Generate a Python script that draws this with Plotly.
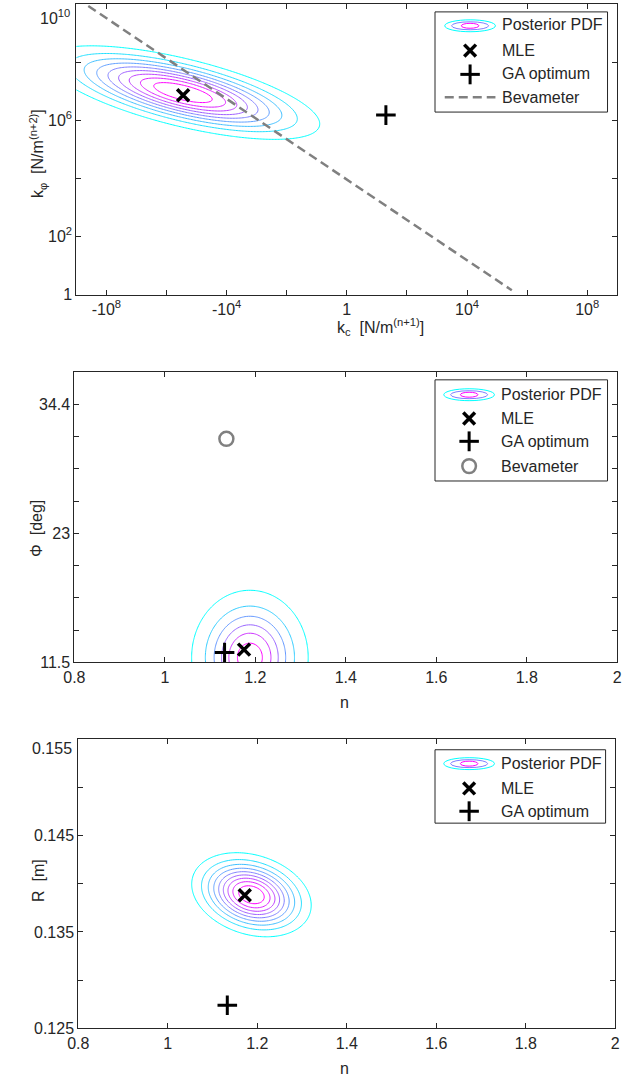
import numpy as np
import plotly.graph_objects as go

W, H = 633, 1090

# ---------------- data ----------------
# Panel 1: k_c vs k_phi
kc_mle = [-2.8e5]
kphi_mle = [7.2e6]
kc_ga = [20.0]
kphi_ga = [1.5e6]
bev_kc = [-4.0e8, 3.1e5]
bev_kphi = [8.5e9, 1.4]
# posterior summary in (signed log10 k_c, log10 k_phi)
pdf1_mean = [-5.45, 6.95]
pdf1_std = [2.12, 0.75]
pdf1_rho = -0.67

# Panel 2: n vs Phi [deg]
n_mle2 = [1.175]
phi_mle = [12.6]
n_ga2 = [1.132]
phi_ga = [12.34]
n_bev = [1.136]
phi_bev = [31.3]
pdf2_mean = [1.188, 11.9]
pdf2_std = [0.060, 2.78]
pdf2_rho = 0.0

# Panel 3: n vs R [m]
n_mle3 = [1.172]
R_mle = [0.1388]
n_ga3 = [1.133]
R_ga = [0.1274]
pdf3_mean = [1.187, 0.13885]
pdf3_std = [0.0622, 0.00203]
pdf3_rho = -0.25

# ticks (labelled major ticks + unlabelled minor ticks)
kc_tickvals = [-8, -4, 0, 4, 8]
kc_ticktext = ["-10<sup>8</sup>", "-10<sup>4</sup>", "1", "10<sup>4</sup>", "10<sup>8</sup>"]
kc_minor = [-6, -2, 2, 6]
kphi_tickvals = [1, 1e2, 1e6]
kphi_ticktext = ["1", "10<sup>2</sup>", "10<sup>6</sup>"]
kphi_minor = [1e4, 1e8, 1e10]
phi_rad_major = [0.2, 0.4, 0.6]
phi_ticktext = ["11.5", "23", "34.4"]
phi_rad_minor = [0.25, 0.3, 0.35, 0.45, 0.5, 0.55]
n_tickvals = [0.8, 1.0, 1.2, 1.4, 1.6, 1.8, 2.0]
n_ticktext = ["0.8", "1", "1.2", "1.4", "1.6", "1.8", "2"]
R_tickvals = [0.125, 0.135, 0.145]
R_ticktext = ["0.125", "0.135", "0.145"]
R_minor = [0.13, 0.14, 0.15, 0.155]


def slog(v):
    v = np.asarray(v, dtype=float)
    return np.sign(v) * np.log10(np.maximum(np.abs(v), 1.0))


def gauss2d(X, Y, mean, std, rho):
    u = (X - mean[0]) / std[0]
    v = (Y - mean[1]) / std[1]
    q = (u * u - 2 * rho * u * v + v * v) / (1 - rho ** 2)
    return np.exp(-0.5 * q)


FONT = "Liberation Sans, Arial, sans-serif"
AX = "#262626"
cool = [[0, "#00FFFF"], [1, "#FF00FF"]]

fig = go.Figure()

# ---- panel 1 ----
tx = np.linspace(-10, 10, 401)
ty = np.linspace(-0.5, 10.5, 301)
TX, TY = np.meshgrid(tx, ty)
Z1 = gauss2d(TX, TY, pdf1_mean, pdf1_std, pdf1_rho)
fig.add_trace(go.Contour(x=tx, y=10 ** ty, z=Z1, xaxis="x", yaxis="y",
                         contours=dict(coloring="lines", start=0.1, end=0.9, size=0.1),
                         line=dict(width=1), colorscale=cool, showscale=False,
                         hoverinfo="skip", showlegend=False))
fig.add_trace(go.Scatter(x=slog(bev_kc), y=bev_kphi, mode="lines", xaxis="x", yaxis="y",
                         line=dict(color="#808080", width=2.5, dash="9px,5px"), showlegend=False))
fig.add_trace(go.Scatter(x=slog(kc_mle), y=kphi_mle, mode="markers", xaxis="x", yaxis="y",
                         marker=dict(symbol="x-thin", size=12, color="black",
                                     line=dict(color="black", width=3.5)), showlegend=False))
fig.add_trace(go.Scatter(x=slog(kc_ga), y=kphi_ga, mode="markers", xaxis="x", yaxis="y",
                         marker=dict(symbol="cross-thin", size=14, color="black",
                                     line=dict(color="black", width=3)), showlegend=False))

# ---- panel 2 ----
nx = np.linspace(0.75, 2.05, 261)
py2 = np.linspace(5, 38, 331)
NX, PY = np.meshgrid(nx, py2)
Z2 = gauss2d(NX, PY, pdf2_mean, pdf2_std, pdf2_rho)
fig.add_trace(go.Contour(x=nx, y=py2, z=Z2, xaxis="x2", yaxis="y2",
                         contours=dict(coloring="lines", start=0.1, end=0.9, size=0.16),
                         line=dict(width=1), colorscale=cool, showscale=False,
                         hoverinfo="skip", showlegend=False))
fig.add_trace(go.Scatter(x=n_bev, y=phi_bev, mode="markers", xaxis="x2", yaxis="y2",
                         marker=dict(symbol="circle-open", size=14, color="#808080",
                                     line=dict(color="#808080", width=2.5)), showlegend=False))
fig.add_trace(go.Scatter(x=n_mle2, y=phi_mle, mode="markers", xaxis="x2", yaxis="y2",
                         marker=dict(symbol="x-thin", size=12, color="black",
                                     line=dict(color="black", width=3.5)), showlegend=False))
fig.add_trace(go.Scatter(x=n_ga2, y=phi_ga, mode="markers", xaxis="x2", yaxis="y2",
                         marker=dict(symbol="cross-thin", size=14, color="black",
                                     line=dict(color="black", width=3)), showlegend=False))

# ---- panel 3 ----
ry = np.linspace(0.124, 0.156, 321)
NX3, RY = np.meshgrid(nx, ry)
Z3 = gauss2d(NX3, RY, pdf3_mean, pdf3_std, pdf3_rho)
fig.add_trace(go.Contour(x=nx, y=ry, z=Z3, xaxis="x3", yaxis="y3",
                         contours=dict(coloring="lines", start=0.1, end=0.9, size=0.1),
                         line=dict(width=1), colorscale=cool, showscale=False,
                         hoverinfo="skip", showlegend=False))
fig.add_trace(go.Scatter(x=n_mle3, y=R_mle, mode="markers", xaxis="x3", yaxis="y3",
                         marker=dict(symbol="x-thin", size=12, color="black",
                                     line=dict(color="black", width=3.5)), showlegend=False))
fig.add_trace(go.Scatter(x=n_ga3, y=R_ga, mode="markers", xaxis="x3", yaxis="y3",
                         marker=dict(symbol="cross-thin", size=14, color="black",
                                     line=dict(color="black", width=3)), showlegend=False))


def px(x):
    return x / W


def py(y):
    return 1 - y / H


base_ax = dict(showline=True, linecolor=AX, linewidth=1, mirror="ticks", ticks="inside",
               ticklen=5, tickcolor=AX, showgrid=False, zeroline=False,
               tickfont=dict(family=FONT, size=16, color=AX))


def minor(vals):
    return dict(tickmode="array", tickvals=list(vals), ticks="inside", ticklen=5,
                tickcolor=AX, showgrid=False)


fig.update_layout(
    width=W, height=H, margin=dict(l=0, r=0, t=0, b=0),
    paper_bgcolor="white", plot_bgcolor="white", showlegend=False,
    font=dict(family=FONT, size=16, color=AX),
    xaxis=dict(base_ax, domain=[px(67), px(622)], range=[-9, 9], anchor="y",
               tickmode="array", tickvals=kc_tickvals, ticktext=kc_ticktext,
               minor=minor(kc_minor)),
    yaxis=dict(base_ax, domain=[py(297), py(4)], type="log", range=[0, 10], anchor="x",
               tickmode="array", tickvals=kphi_tickvals, ticktext=kphi_ticktext,
               minor=minor(kphi_minor)),
    xaxis2=dict(base_ax, domain=[px(65), px(622)], range=[0.8, 2.0], anchor="y2",
                tickmode="array", tickvals=n_tickvals, ticktext=n_ticktext),
    yaxis2=dict(base_ax, domain=[py(668), py(375)], range=[np.degrees(0.2), np.degrees(0.65)],
                anchor="x2", tickmode="array", tickvals=list(np.degrees(phi_rad_major)),
                ticktext=phi_ticktext, minor=minor(np.degrees(phi_rad_minor))),
    xaxis3=dict(base_ax, domain=[px(69), px(620)], range=[0.8, 2.0], anchor="y3",
                tickmode="array", tickvals=n_tickvals, ticktext=n_ticktext),
    yaxis3=dict(base_ax, domain=[py(1037), py(745)], range=[0.125, 0.155], anchor="x3",
                tickmode="array", tickvals=R_tickvals, ticktext=R_ticktext,
                minor=minor(R_minor)),
)

ann = []
shapes = []


def text(x, y, s, xanchor="center", angle=0, size=16):
    ann.append(dict(xref="paper", yref="paper", x=px(x), y=py(y), text=s, showarrow=False,
                    xanchor=xanchor, yanchor="middle", textangle=angle,
                    font=dict(family=FONT, size=size, color=AX)))


# axis titles
text(379, 330, "k<sub>c</sub>  [N/m<sup>(n+1)</sup>]")
text(27, 155, "k<sub>φ</sub>  [N/m<sup>(n+2)</sup>]", angle=-90)
text(342, 708, "n")
text(26, 533, "Φ  [deg]", angle=-90)
text(342, 1077, "n")
text(28, 888, "R  [m]", angle=-90)
# top tick labels that sit slightly below their ticks
text(63, 17, "10<sup>10</sup>", xanchor="right")
text(65, 755, "0.155", xanchor="right")


def legend_box(x0, y0, x1, y1):
    shapes.append(dict(type="rect", xref="paper", yref="paper", x0=px(x0), x1=px(x1),
                       y0=py(y1), y1=py(y0), line=dict(color=AX, width=1), fillcolor="white"))


def ell(cx, cy, rx, ry, color):
    shapes.append(dict(type="circle", xref="paper", yref="paper", x0=px(cx - rx), x1=px(cx + rx),
                       y0=py(cy + ry), y1=py(cy - ry), line=dict(color=color, width=1)))


def seg(xa, ya, xb, yb, color="black", width=3, dash=None):
    d = dict(type="line", xref="paper", yref="paper", x0=px(xa), x1=px(xb), y0=py(ya), y1=py(yb),
             line=dict(color=color, width=width))
    if dash:
        d["line"]["dash"] = dash
    shapes.append(d)


def pdf_icon(cx, cy):
    ell(cx, cy, 26, 6, "#00FFFF")
    ell(cx, cy, 19, 4, "#7F7FFF")
    ell(cx, cy, 9, 2.5, "#FF00FF")


def x_icon(cx, cy):
    seg(cx - 6, cy - 6, cx + 6, cy + 6, width=3.5)
    seg(cx - 6, cy + 6, cx + 6, cy - 6, width=3.5)


def plus_icon(cx, cy):
    seg(cx - 10, cy, cx + 10, cy, width=3)
    seg(cx, cy - 10, cx, cy + 10, width=3)


# legend 1
legend_box(435, 12, 612, 113)
pdf_icon(471, 26)
x_icon(471, 51)
plus_icon(471, 75)
seg(445, 98, 497, 98, color="#808080", width=2.5, dash="9px,5px")
for yy, s in zip([25, 51, 74, 98], ["Posterior PDF", "MLE", "GA optimum", "Bevameter"]):
    text(502, yy, s, xanchor="left")

# legend 2
legend_box(435, 383, 612, 485)
pdf_icon(470, 398)
x_icon(470, 422)
plus_icon(470, 445)
shapes.append(dict(type="circle", xref="paper", yref="paper", x0=px(463), x1=px(477),
                   y0=py(477), y1=py(463), line=dict(color="#808080", width=2.5)))
for yy, s in zip([398, 422, 445, 470], ["Posterior PDF", "MLE", "GA optimum", "Bevameter"]):
    text(501, yy, s, xanchor="left")

# legend 3
legend_box(435, 756, 610, 830)
pdf_icon(470, 770)
x_icon(470, 795)
plus_icon(470, 818)
for yy, s in zip([770, 795, 818], ["Posterior PDF", "MLE", "GA optimum"]):
    text(501, yy, s, xanchor="left")

fig.update_layout(annotations=ann, shapes=shapes)
fig.write_html("out.html")
